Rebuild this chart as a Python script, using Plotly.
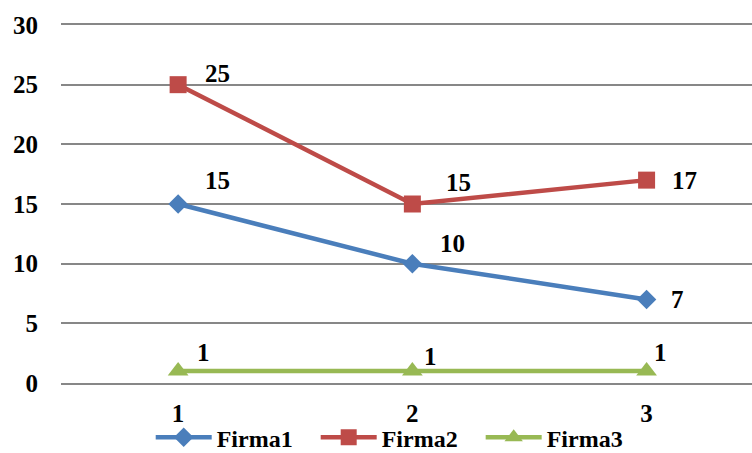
import plotly.graph_objects as go

categories = [1, 2, 3]
firma1 = [15, 10, 7]
firma2 = [25, 15, 17]
firma3 = [1, 1, 1]
y_ticks = [0, 5, 10, 15, 20, 25, 30]

font_family = "Liberation Serif"
colors = {"Firma1": "#4A7EBB", "Firma2": "#BE4B48", "Firma3": "#98B954"}
symbols = {"Firma1": "diamond", "Firma2": "square", "Firma3": "triangle-up"}
sizes = {"Firma1": 15, "Firma2": 17, "Firma3": 18}
series = {"Firma1": firma1, "Firma2": firma2, "Firma3": firma3}

label_shifts = {
    "Firma1": [(39, 24), (40, 20), (31, 0)],
    "Firma2": [(39, 11), (46, 22), (38, 0)],
    "Firma3": [(25, 19), (18, 15), (14, 19)],
}

fig = go.Figure()
for name, vals in series.items():
    fig.add_trace(go.Scatter(
        x=categories, y=vals, name="<b>%s</b>&nbsp;&nbsp;&nbsp;" % name,
        mode="lines+markers",
        line=dict(color=colors[name], width=4.5),
        marker=dict(symbol=symbols[name], size=sizes[name], color=colors[name]),
        cliponaxis=False,
    ))

annotations = []
for name, vals in series.items():
    for i, (xv, yv) in enumerate(zip(categories, vals)):
        dx, dy = label_shifts[name][i]
        annotations.append(dict(
            x=xv, y=yv, text="<b>%s</b>" % yv, showarrow=False,
            xshift=dx, yshift=dy,
            font=dict(family=font_family, size=25, color="black"),
        ))

fig.update_layout(
    width=752, height=453,
    margin=dict(l=61, r=0, t=25, b=70, autoexpand=False),
    plot_bgcolor="white", paper_bgcolor="white",
    font=dict(family=font_family, size=25, color="black"),
    showlegend=True,
    legend=dict(orientation="h", x=0.488, xanchor="center", y=-0.153, yanchor="middle",
                bgcolor="rgba(0,0,0,0)",
                font=dict(family=font_family, size=24, color="black"),
                itemwidth=56, tracegroupgap=0),
    annotations=annotations,
    xaxis=dict(range=[0.5, 3.45], tickvals=categories,
               ticktext=["<b>%s</b>" % c for c in categories],
               showgrid=False, zeroline=False, showline=True, mirror=True,
               linecolor="#878787", linewidth=2, ticks="",
               ticklabelstandoff=7),
    yaxis=dict(range=[0, 30], tickvals=y_ticks,
               ticktext=["<b>%s</b>" % t for t in y_ticks],
               showgrid=True, gridcolor="#878787",
               gridwidth=2, zeroline=False, showline=False, ticks="",
               ticklabelstandoff=22),
)
fig.write_html("out.html")
